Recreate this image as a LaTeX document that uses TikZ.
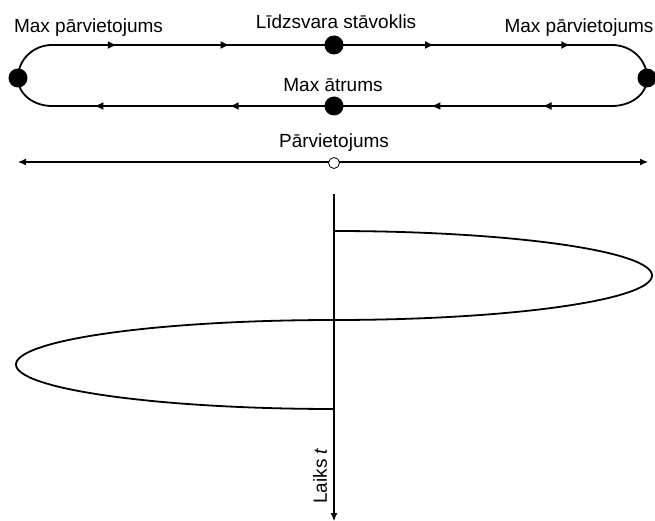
\documentclass[tikz,border=0pt]{standalone}
\usepackage{fontspec}
\setmainfont{Liberation Sans}
\usetikzlibrary{arrows.meta,decorations.markings}

\tikzset{
  bigdot/.style={circle,fill=black,inner sep=0pt,minimum size=19pt},
  track/.style={line width=1.8pt},
  axisline/.style={line width=1.1pt},
  tips/.style 2 args={postaction={decorate},
    decoration={markings,
      mark=at position #1 with {\arrow{Latex[length=9pt,width=8pt]}},
      mark=at position #2 with {\arrow{Latex[length=9pt,width=8pt]}}}},
}

\begin{document}
\begin{tikzpicture}[x=1pt,y=-1pt,font=\fontsize{19}{22}\selectfont]
  \useasboundingbox (0,0) rectangle (655,521);

  % oscillation path
  \node[bigdot] (lmax) at (18,78) {};
  \node[bigdot] (rmax) at (647,78) {};
  \node[bigdot] (eq) at (334,45) {};
  \node[bigdot] (vmax) at (334,106) {};
  \coordinate (tl) at (52,45);
  \coordinate (tr) at (612,45);
  \coordinate (bl) at (52,106);
  \coordinate (br) at (612,106);

  \draw[track] (lmax.center) to[out=90,in=180] (tl);
  \draw[track,tips={0.23}{0.63}] (tl) -- (eq.center);
  \draw[track,tips={0.36}{0.85}] (eq.center) -- (tr);
  \draw[track] (tr) to[out=0,in=90] (rmax.center)
    to[out=-90,in=0] (br);
  \draw[track,tips={0.25}{0.65}] (br) -- (vmax.center);
  \draw[track,tips={0.37}{0.85}] (vmax.center) -- (bl);
  \draw[track] (bl) to[out=180,in=-90] (lmax.center);

  \node[anchor=base] (lbl-lmax) at (88.5,33) {Max pārvietojums};
  \node[anchor=base] (lbl-eq) at (336,29) {Līdzsvara stāvoklis};
  \node[anchor=base] (lbl-rmax) at (579,33) {Max pārvietojums};
  \node[anchor=base] (lbl-vmax) at (333,92) {Max ātrums};

  % displacement axis
  \node[anchor=base] (lbl-disp) at (334,148) {Pārvietojums};
  \coordinate (dl) at (18,162);
  \coordinate (dr) at (648,162);
  \draw[axisline,{Latex[length=8pt,width=7pt]}-{Latex[length=8pt,width=7pt]}]
    (dl) -- (dr);
  \node[circle,draw,fill=white,line width=0.8pt,inner sep=0pt,
    minimum size=11pt] (zero) at (334,163) {};

  % time axis
  \coordinate (ttop) at (334,194);
  \coordinate (tbot) at (334,521);
  \draw[axisline,-{Latex[length=8pt,width=7pt]}] (ttop) -- (tbot);
  \node[rotate=90] (lbl-time) at (320,476) {Laiks \textit{t}};

  \draw[track]
    plot[domain=-90:90,samples=80,smooth]
      ({334+318*cos(\x)},{275.5+44.5*sin(\x)})
    plot[domain=90:270,samples=80,smooth]
      ({334+318*cos(\x)},{364.5-44.5*sin(\x)});
\end{tikzpicture}
\end{document}
